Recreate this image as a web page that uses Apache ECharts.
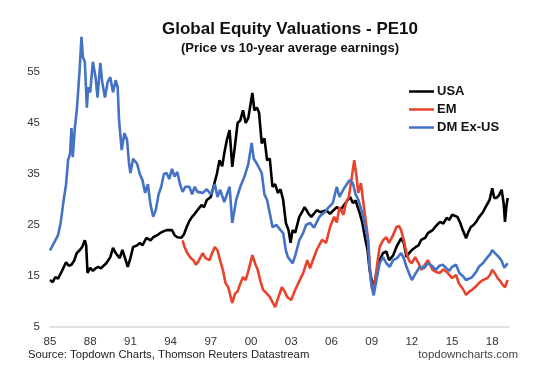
<!DOCTYPE html>
<html>
<head>
<meta charset="utf-8">
<script src="https://cdn.jsdelivr.net/npm/echarts@6/dist/echarts.min.js"></script>
<style>html,body{margin:0;padding:0;background:#fff}#c{width:536px;height:370px}</style>
</head>
<body>
<div id="c"></div>
<script>
// ---- Data ----
const xTickYears = [85, 88, 91, 94, 97, 0, 3, 6, 9, 12, 15, 18];
const yTicks = [5, 15, 25, 35, 45, 55];

const usaYears = [1985.0,1985.2,1985.4,1985.6,1985.8,1986.0,1986.2,1986.4,1986.6,1986.8,1987.0,1987.2,1987.4,1987.6,1987.7,1987.8,1988.0,1988.2,1988.4,1988.6,1988.8,1989.0,1989.2,1989.5,1989.7,1989.9,1990.2,1990.4,1990.6,1990.8,1991.0,1991.2,1991.5,1991.7,1991.9,1992.2,1992.5,1992.7,1993.0,1993.2,1993.5,1993.7,1994.1,1994.3,1994.5,1994.8,1995.0,1995.2,1995.4,1995.6,1995.8,1996.0,1996.3,1996.5,1996.7,1997.0,1997.2,1997.45,1997.65,1997.85,1998.0,1998.2,1998.4,1998.6,1998.8,1999.0,1999.2,1999.4,1999.6,1999.8,2000.1,2000.25,2000.45,2000.6,2000.8,2001.0,2001.2,2001.4,2001.6,2001.8,2002.0,2002.2,2002.4,2002.6,2002.8,2002.95,2003.1,2003.3,2003.6,2003.8,2004.0,2004.3,2004.5,2004.9,2005.2,2005.6,2005.9,2006.2,2006.4,2006.7,2007.1,2007.4,2007.6,2007.8,2008.1,2008.3,2008.5,2008.7,2008.85,2009.05,2009.2,2009.4,2009.6,2009.85,2010.1,2010.3,2010.6,2010.85,2011.2,2011.4,2011.6,2011.8,2012.0,2012.3,2012.5,2012.7,2013.0,2013.2,2013.55,2013.8,2014.1,2014.35,2014.6,2014.8,2015.0,2015.2,2015.4,2015.6,2015.8,2016.05,2016.2,2016.4,2016.6,2016.8,2017.0,2017.3,2017.5,2017.8,2018.0,2018.15,2018.3,2018.5,2018.7,2018.85,2018.95,2019.05,2019.15];
const usaValues = [14.2,13.8,14.8,14.5,15.5,16.6,17.7,17.0,17.2,18.0,19.5,20.0,20.7,22.0,21.0,15.6,16.6,16.0,16.5,16.8,16.5,17.0,17.5,18.7,20.5,19.5,18.5,20.1,18.5,16.8,18.5,20.7,21.0,21.5,21.0,22.5,22.0,22.6,23.0,23.4,23.8,24.0,24.0,23.0,22.6,22.5,23.2,24.6,25.8,26.6,27.2,27.9,28.9,28.5,29.9,30.5,32.5,35.0,37.7,36.5,39.0,41.7,43.6,36.4,40.5,45.0,45.5,47.5,45.0,46.0,50.9,47.5,48.0,47.0,41.0,42.0,37.7,38.0,32.5,33.0,31.3,32.0,29.9,25.4,24.0,21.5,24.0,23.5,26.6,27.5,28.5,27.2,26.6,27.9,27.5,27.9,27.2,28.0,28.5,28.0,29.5,30.5,29.3,29.8,27.4,25.5,22.6,20.0,16.2,13.6,13.5,16.0,18.1,19.5,19.8,18.1,19.0,20.7,22.4,21.5,18.7,19.5,20.1,20.7,21.0,22.1,22.5,23.4,24.0,24.8,25.6,25.3,26.4,26.0,27.0,26.8,26.6,25.5,24.0,22.4,23.5,24.6,25.0,25.6,26.5,27.5,28.5,29.9,32.2,30.3,30.3,30.8,31.9,29.3,25.6,28.5,30.3];

const emYears = [1994.9,1995.0,1995.2,1995.5,1995.7,1995.9,1996.1,1996.4,1996.6,1996.9,1997.1,1997.3,1997.5,1997.7,1997.9,1998.1,1998.3,1998.6,1998.8,1999.0,1999.2,1999.4,1999.6,1999.8,2000.1,2000.3,2000.5,2000.7,2000.9,2001.2,2001.4,2001.8,2002.0,2002.3,2002.5,2002.7,2003.0,2003.3,2003.6,2003.9,2004.2,2004.4,2004.6,2004.9,2005.3,2005.6,2005.9,2006.2,2006.4,2006.6,2006.9,2007.1,2007.3,2007.5,2007.7,2007.85,2008.0,2008.2,2008.4,2008.55,2008.75,2008.9,2009.05,2009.2,2009.4,2009.6,2009.85,2010.1,2010.3,2010.6,2010.85,2011.05,2011.2,2011.4,2011.6,2011.8,2012.0,2012.25,2012.5,2012.7,2013.0,2013.2,2013.55,2013.8,2014.1,2014.35,2014.6,2014.8,2015.0,2015.3,2015.5,2015.8,2016.05,2016.3,2016.5,2016.8,2017.0,2017.3,2017.65,2017.85,2018.0,2018.2,2018.4,2018.6,2018.8,2018.95,2019.15];
const emValues = [22.0,21.0,19.7,18.5,18.1,17.2,18.0,19.5,18.5,18.1,19.5,20.7,20.0,18.0,16.2,13.6,12.8,9.7,11.5,12.0,13.5,14.8,14.2,16.0,19.1,17.5,16.2,14.0,12.3,11.5,10.9,8.9,10.5,12.8,12.0,10.9,10.3,12.3,14.0,15.6,18.1,16.5,18.0,20.1,22.1,21.5,24.6,26.6,25.5,28.5,27.0,29.5,30.5,34.0,37.7,35.0,31.3,33.2,29.0,26.0,22.0,15.0,12.3,13.0,17.0,20.7,22.0,22.6,21.5,23.0,24.6,24.8,24.0,22.0,19.5,18.0,17.5,18.7,17.5,16.2,17.3,18.1,16.2,15.8,15.6,16.3,15.8,15.2,14.6,15.2,13.6,12.5,11.3,12.0,12.3,13.0,13.6,14.2,14.6,15.3,16.2,15.5,14.6,14.0,13.2,12.8,14.2];

const dmYears = [1985.0,1985.3,1985.6,1985.8,1986.0,1986.2,1986.35,1986.5,1986.6,1986.7,1986.85,1987.0,1987.2,1987.35,1987.45,1987.6,1987.75,1987.85,1988.0,1988.2,1988.4,1988.55,1988.75,1988.9,1989.1,1989.3,1989.5,1989.7,1989.9,1990.05,1990.15,1990.35,1990.55,1990.75,1990.9,1991.0,1991.2,1991.5,1991.7,1991.9,1992.1,1992.3,1992.5,1992.7,1992.9,1993.1,1993.3,1993.5,1993.7,1993.9,1994.1,1994.3,1994.5,1994.7,1994.9,1995.1,1995.4,1995.6,1995.8,1996.0,1996.4,1996.7,1997.0,1997.3,1997.5,1997.7,1998.0,1998.4,1998.6,1998.9,1999.2,1999.5,1999.8,2000.05,2000.2,2000.4,2000.8,2001.0,2001.2,2001.5,2001.6,2001.9,2002.2,2002.4,2002.6,2002.75,2003.1,2003.3,2003.6,2003.9,2004.1,2004.4,2004.7,2005.1,2005.5,2005.8,2006.1,2006.4,2006.6,2006.9,2007.15,2007.35,2007.6,2007.8,2008.0,2008.3,2008.5,2008.7,2008.85,2009.0,2009.15,2009.35,2009.6,2009.85,2010.1,2010.35,2010.6,2010.9,2011.2,2011.4,2011.6,2011.8,2012.0,2012.3,2012.6,2012.9,2013.2,2013.5,2013.8,2014.05,2014.3,2014.6,2014.8,2015.0,2015.3,2015.55,2015.8,2016.05,2016.3,2016.5,2016.8,2017.0,2017.3,2017.65,2017.85,2018.0,2018.2,2018.5,2018.7,2018.9,2019.0,2019.15];
const dmValues = [20.0,21.5,23.0,25.5,29.5,33.0,37.7,39.0,44.0,38.3,44.0,47.5,55.0,61.9,58.0,57.0,48.0,52.0,51.0,57.0,54.0,50.0,56.8,53.0,50.0,53.0,54.0,51.0,53.4,52.0,45.6,39.7,43.0,41.7,37.0,35.2,38.0,37.0,35.0,33.8,31.3,33.0,29.0,26.6,28.0,31.0,32.5,35.0,35.2,34.0,36.0,34.5,35.4,33.0,31.5,32.5,32.5,31.0,32.5,31.5,31.3,32.0,31.0,33.0,30.5,31.9,29.5,32.5,25.4,30.0,32.5,34.4,37.0,41.1,38.0,37.2,35.2,31.0,29.9,26.0,24.6,25.0,24.0,23.4,20.0,18.7,17.5,19.0,22.0,23.5,25.0,25.4,24.5,26.6,27.5,28.5,29.3,32.5,30.5,32.0,33.0,33.8,33.2,31.0,30.0,27.4,25.0,22.6,16.8,13.0,11.2,14.0,17.5,18.7,17.5,16.8,18.1,18.5,19.5,18.5,16.8,15.5,14.2,15.6,16.8,16.5,17.5,17.0,16.2,17.0,17.2,16.5,16.0,16.8,17.2,15.6,15.0,14.2,14.5,14.8,15.8,16.8,17.5,18.7,19.3,20.1,19.5,18.7,18.0,16.6,16.3,17.5];

const START = 1985;
function toPairs(years, vals) { return years.map((y, i) => [y - START, vals[i]]); }

const chart = echarts.init(document.getElementById('c'), null, { renderer: 'canvas' });
const FONT = '"Liberation Sans", Arial, sans-serif';

chart.setOption({
  animation: false,
  backgroundColor: '#ffffff',
  title: {
    text: 'Global Equity Valuations - PE10',
    subtext: '(Price vs 10-year average earnings)',
    left: 285, top: 16, textAlign: 'center', itemGap: 4,
    textStyle: { fontFamily: FONT, fontSize: 17, fontWeight: 'bold', color: '#111' },
    subtextStyle: { fontFamily: FONT, fontSize: 13, fontWeight: 'bold', color: '#111' }
  },
  legend: {
    orient: 'vertical', left: 404, top: 80, itemGap: 5,
    icon: 'rect', itemWidth: 25, itemHeight: 2.5,
    textStyle: { fontFamily: FONT, fontSize: 13, fontWeight: 'bold', color: '#111', padding: [0,0,0,-2] },
    data: ['USA', 'EM', 'DM Ex-US']
  },
  grid: { left: 50, right: 27, top: 21, bottom: 43, containLabel: false },
  xAxis: {
    type: 'value', min: 0, max: 34.25, interval: 3,
    axisLine: { show: true, onZero: false, lineStyle: { color: '#d9d9d9', width: 1.5 } },
    axisTick: { show: false }, splitLine: { show: false },
    axisLabel: {
      margin: 9, fontFamily: FONT, fontSize: 11.5, color: '#333', showMaxLabel: false,
      formatter: v => { const yy = (85 + Math.round(v)) % 100; return xTickYears.includes(yy) ? String(yy).padStart(2, '0') : ''; }
    }
  },
  yAxis: {
    type: 'value', min: yTicks[0], max: 65, interval: 10,
    axisLine: { show: false }, axisTick: { show: false }, splitLine: { show: false },
    axisLabel: { margin: 10, fontFamily: FONT, fontSize: 11.5, color: '#333', showMaxLabel: false }
  },
  series: [
    { name: 'USA', type: 'line', symbol: 'none', data: toPairs(usaYears, usaValues), lineStyle: { color: '#000000', width: 2.6 }, itemStyle: { color: '#000000' } },
    { name: 'EM', type: 'line', symbol: 'none', data: toPairs(emYears, emValues), lineStyle: { color: '#e8432d', width: 2.6 }, itemStyle: { color: '#e8432d' } },
    { name: 'DM Ex-US', type: 'line', symbol: 'none', data: toPairs(dmYears, dmValues), lineStyle: { color: '#4472c4', width: 2.6 }, itemStyle: { color: '#4472c4' } }
  ],
  graphic: [
    { type: 'text', left: 28, top: 349, style: { text: 'Source: Topdown Charts, Thomson Reuters Datastream', font: '11.3px "Liberation Sans", Arial, sans-serif', fill: '#222' } },
    { type: 'text', right: 18, top: 349, style: { text: 'topdowncharts.com', font: '11.5px "Liberation Sans", Arial, sans-serif', fill: '#444' } }
  ]
});
</script>
</body>
</html>
